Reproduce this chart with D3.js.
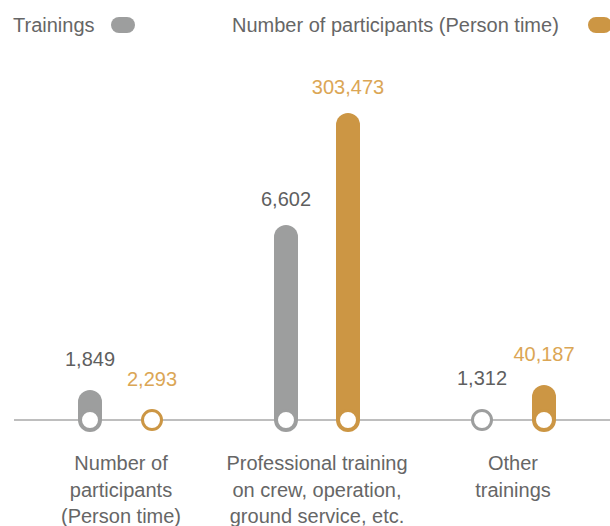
<!DOCTYPE html>
<html>
<head>
<meta charset="utf-8">
<script src="https://cdn.jsdelivr.net/npm/d3@7"></script>
<style>
  body { margin: 0; background: #fff; }
  text { font-family: 'Liberation Sans', Arial, sans-serif; }
</style>
</head>
<body>
<div id="chart"></div>
<script>
var categories = [
  ['Number of', 'participants', '(Person time)'],
  ['Professional training', 'on crew, operation,', 'ground service, etc.'],
  ['Other', 'trainings']
]
var seriesNames = ['Trainings', 'Number of participants (Person time)']
var trainings = [1849, 6602, 1312]
var participants = [2293, 303473, 40187]
var valueLabels = [['1,849', '6,602', '1,312'], ['2,293', '303,473', '40,187']]

var width = 610, height = 526
var baseY = 420, barW = 24, r = 9.5
var colors = ['#9d9e9e', '#cc9644']
var labelColors = ['#5f5f5f', '#dba655']

var svg = d3.select('#chart').append('svg')
    .attr('width', width)
    .attr('height', height)

var x0 = d3.scaleBand()
    .domain(d3.range(categories.length))
    .range([23, 611])
var x1 = d3.scalePoint()
    .domain([0, 1])
    .range([-31, 31])

// each series has its own height scale
var hScales = [
  d3.scaleLinear().domain([985, 6602]).range([0, 195]).clamp(true),
  d3.scaleLinear().domain([6290, 303473]).range([0, 307]).clamp(true)
]
var series = [trainings, participants]

// baseline
svg.append('line')
    .attr('x1', 14).attr('x2', 610)
    .attr('y1', baseY).attr('y2', baseY)
    .attr('stroke', '#a8a8a8')
    .attr('stroke-width', 1.5)

// legend
var legend = [
  {x: 13, pill: 111},
  {x: 232, pill: 588}
]
legend.forEach(function(l, i) {
  svg.append('text')
      .attr('x', l.x).attr('y', 32)
      .attr('fill', '#666')
      .style('font-size', '20px')
      .text(seriesNames[i])
  svg.append('rect')
      .attr('x', l.pill).attr('y', 17)
      .attr('width', 24).attr('height', 16)
      .attr('rx', 8)
      .attr('fill', colors[i])
})

var groups = svg.selectAll('.grp')
    .data(categories)
    .enter().append('g')
    .attr('class', 'grp')
    .attr('transform', function(d, i) { return 'translate(' + (x0(i) + x0.bandwidth() / 2) + ',0)' })

series.forEach(function(vals, s) {
  groups.each(function(d, i) {
    var g = d3.select(this)
    var cx = x1(s)
    var h = Math.max(hScales[s](vals[i]), 0)
    var top = baseY - h
    if (h > r + 4) {
      g.append('rect')
          .attr('x', cx - barW / 2)
          .attr('y', top)
          .attr('width', barW)
          .attr('height', h + barW / 2)
          .attr('rx', barW / 2)
          .attr('fill', colors[s])
    }
    g.append('circle')
        .attr('cx', cx).attr('cy', baseY)
        .attr('r', r)
        .attr('fill', '#fff')
        .attr('stroke', colors[s])
        .attr('stroke-width', 3)
    var labelTop = Math.min(top, baseY - 10)
    g.append('text')
        .attr('x', cx)
        .attr('y', labelTop - (h > 100 ? 19 : 24))
        .attr('text-anchor', 'middle')
        .attr('fill', labelColors[s])
        .style('font-size', '20px')
        .text(valueLabels[s][i])
  })
})

// category labels
groups.append('text')
    .attr('text-anchor', 'middle')
    .attr('fill', '#666')
    .style('font-size', '20px')
    .selectAll('tspan')
    .data(function(d) { return d })
    .enter().append('tspan')
    .attr('x', 0)
    .attr('y', function(d, i) { return 470 + i * 26.5 })
    .text(function(d) { return d })
</script>
</body>
</html>
